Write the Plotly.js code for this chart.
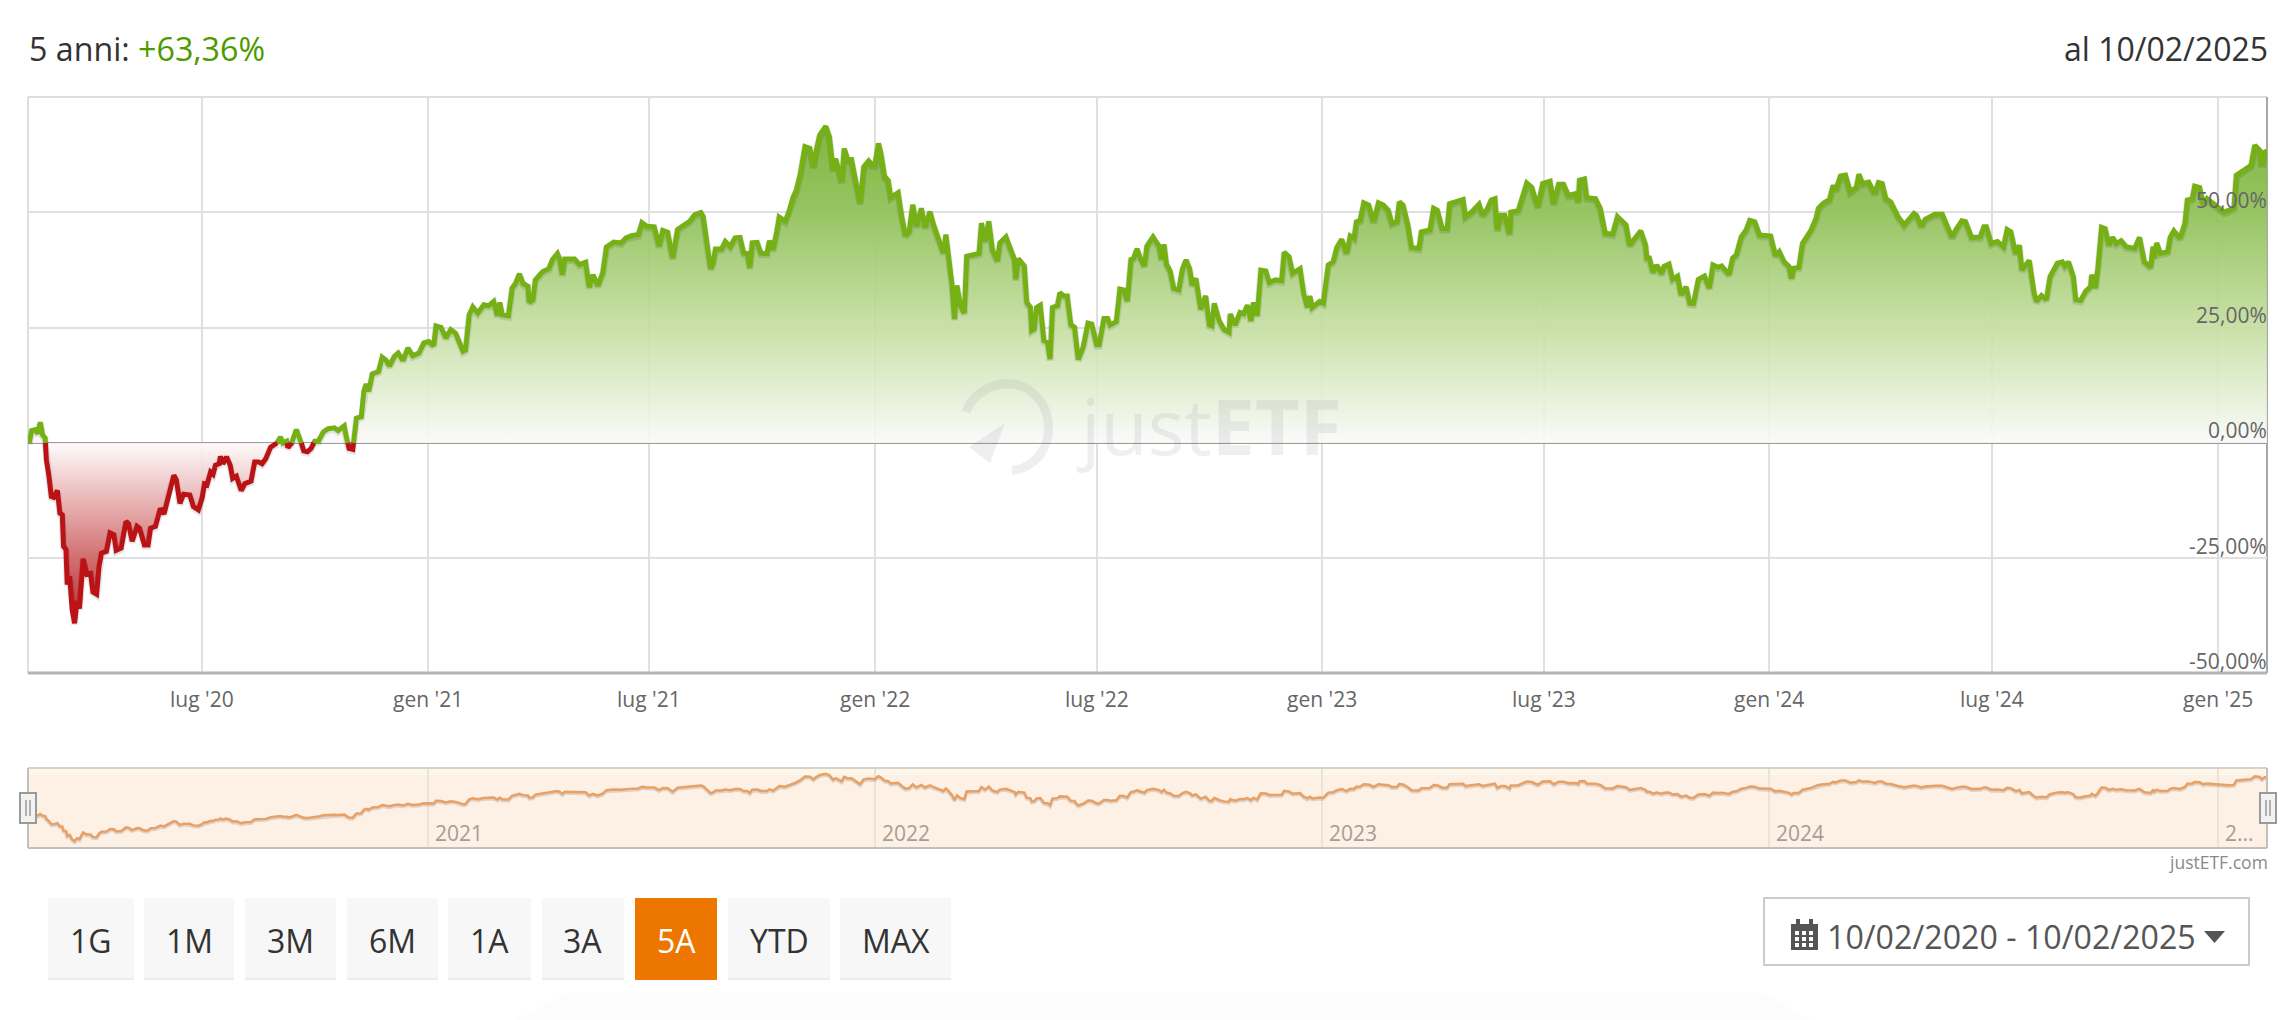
<!DOCTYPE html>
<html lang="it">
<head>
<meta charset="utf-8">
<title>justETF 5 anni</title>
<script src="https://cdn.plot.ly/plotly-3.0.1.min.js"></script>
<style>html,body{margin:0;padding:0;background:#fff;overflow:hidden}#chart{width:2294px;height:1020px}</style>
</head>
<body>
<div id="chart"></div>
<script>
// Data: days since 10/02/2020 and cumulative return in %
const startDate = Date.UTC(2020, 1, 10);
const dayOffsets = [0,1,3,6,8,10,12,14,15,17,19,21,24,26,28,29,31,32,34,36,38,40,42,45,48,51,53,56,58,60,64,67,70,72,76,80,82,85,89,91,95,98,100,104,108,111,115,119,121,124,127,132,135,139,142,144,146,149,151,153,156,157,159,162,165,167,170,174,177,182,185,188,191,194,198,203,206,208,211,212,215,219,223,225,228,231,234,237,241,245,250,253,
258,260,262,265,268,272,274,276,278,281,286,289,292,295,299,302,306,310,314,319,323,327,331,333,337,341,345,349,352,355,357,360,363,367,372,376,380,383,385,387,392,395,398,401,404,408,409,412,414,420,425,428,432,434,436,438,446,450,455,458,461,465,469,472,478,484,488,493,498,501,505,511,
515,518,522,526,530,535,540,544,549,551,554,557,559,561,566,569,573,577,581,584,587,589,591,595,598,603,605,608,611,613,618,621,624,627,630,634,638,641,643,646,651,654,657,659,664,666,669,672,675,679,682,686,689,691,694,696,699,702,704,710,713,716,719,722,725,729,732,736,739,744,747,749,751,754,756,758,761,764,766,771,776,778,781,784,787,
791,793,798,802,805,806,808,813,815,818,819,821,823,826,829,832,834,836,840,842,845,848,851,854,855,857,861,865,868,872,874,878,881,883,888,891,894,897,900,902,905,908,911,913,918,923,925,927,929,932,935,939,942,945,948,950,953,957,961,964,966,968,972,976,980,981,985,989,992,995,998,1000,1003,1006,1010,1013,1018,1023,1025,1029,1032,1038,1041,1044,1046,1048,
1054,1057,1061,1065,1068,1072,1076,1079,1082,1084,1087,1090,1094,1098,1102,1106,1110,1113,1117,1119,1122,1126,1129,1135,1137,1144,1147,1150,1154,1158,1160,1166,1171,1173,1178,1184,1187,1191,1194,1197,1199,1202,1205,1209,1210,1216,1219,1223,1227,1232,1236,1242,1245,1249,1253,1257,1263,1265,1266,1270,1272,1279,1283,1287,1293,1297,1304,1307,1310,
1316,1320,1321,1323,1326,1329,1333,1335,1339,1342,1346,1349,1353,1356,1359,1363,1368,1372,1375,1379,1382,1388,1391,1394,1398,1402,1405,1409,1413,1422,1426,1429,1433,1437,1439,1441,1445,1448,1455,1459,1461,1465,1470,1473,1475,1479,1483,1487,1492,1494,1497,1502,1507,1510,1513,1516,1520,1526,1531,1539,1541,1545,1548,1556,1562,
1567,1570,1573,1578,1581,1586,1593,1596,1598,1602,1607,1612,1615,1618,1622,1625,1627,1633,1637,1639,1643,1647,1650,1656,1660,1662,1665,1669,1671,1675,1679,1683,1684,1687,1689,1692,1695,1698,1701,1704,1708,1712,1719,1723,1727,1732,1734,1735,1737,1740,1746,1748,1751,1756,1760,1762,1766,1768,1772,1775,1778,1785,1792,1796,1800,1802,1814,1817,1821,1823,1825,1827];
const returnsPct = [0,0,2.7,2.9,2.0,4.5,1.7,1.1,-3.7,-7.0,-11.6,-11.8,-10.3,-15.2,-15.6,-22.4,-23.1,-30.7,-28.9,-36.1,-39.1,-34.3,-35.9,-25.1,-28.5,-28.3,-32.3,-32.8,-26.7,-23.9,-23.5,-19.5,-19.9,-23.3,-22.8,-17.0,-17.5,-21.3,-18.1,-18.5,-22.1,-22.1,-18.5,-18.1,-14.2,-15.4,-10.6,-7.0,-8.0,-13.1,-11.1,-11.3,-13.8,-14.5,-12.0,-8.9,-9.1,-6.3,-6.8,-4.8,-4.5,-2.9,-4.5,-3.0,-4.8,-7.7,-7.2,-10.3,-8.8,-8.3,-4.1,-4.1,-4.5,-3.4,-0.9,-0.1,1.3,0,0.4,-1.0,-0.1,2.9,0,-1.7,-1.9,-1.2,0.4,0.4,2.4,3.1,3.3,2.7,
3.7,1.0,-1.2,-1.4,5.4,5.7,11.2,12.8,11.2,15.0,15.5,18.6,18.0,16.7,18.8,19.5,17.9,20.6,18.9,19.5,21.7,22.0,21.1,25.4,25.1,22.8,24.6,23.8,22.0,19.9,20.2,27.8,29.5,28.2,30.0,29.8,30.7,27.6,30.5,27.8,27.6,33.6,34.7,36.7,34.6,34.0,30.5,31.1,35.4,37.2,37.8,39.8,41.1,39.8,36.5,39.9,39.9,38.7,39.2,33.8,36.5,34.1,36.9,42.5,43.6,43.4,44.5,45.0,45.2,47.8,47.0,46.9,
42.7,46.1,45.7,40.1,46.3,47.3,48.1,49.5,50.0,49.1,43.4,37.8,39.0,42.1,42.1,43.7,42.6,44.5,44.6,41.2,41.1,38.0,43.4,43.5,41.2,41.1,43.9,41.9,45.9,49.0,48.1,50.2,53.1,54.9,58.1,64.3,63.9,59.9,63.2,66.8,68.7,66.4,59.2,61.7,56.7,63.9,61.4,61.5,57.4,52.0,59.9,61.2,60.3,60.3,65.0,62.8,57.8,56.9,53.3,54.3,49.1,45.0,45.9,51.7,47.0,50.9,46.8,50.2,47.3,43.7,41.2,45.2,41.6,34.4,26.9,34.2,29.7,28.2,40.5,40.9,41.1,47.7,43.7,48.1,41.9,
39.5,43.4,44.7,41.6,39.8,35.5,40.0,38.4,30.5,29.4,24.4,24.7,29.4,29.9,22.2,21.8,18.2,29.4,29.8,32.6,31.9,31.9,25.6,25.1,21.8,18.1,20.8,26.0,25.8,21.3,21.3,27.0,27.0,25.6,26.3,33.4,33.2,30.8,39.8,40.0,42.1,39.8,38.4,42.7,44.7,42.7,39.8,43.1,38.8,37.3,33.5,33.2,37.7,39.7,37.7,34.2,35.7,29.0,31.9,25.6,25.4,30.3,26.5,24.6,24.0,28.0,25.6,28.3,28.0,29.9,26.5,30.5,27.6,37.5,37.3,34.8,35.4,35.2,41.4,40.4,36.8,37.8,32.3,29.4,31.9,29.4,
30.7,30.3,38.6,39.3,42.4,44.2,41.1,44.9,44.4,48.0,48.3,52.1,51.6,48.0,52.1,51.6,50.5,47.6,48.0,52.3,51.6,47.3,42.4,42.2,45.8,46.2,50.9,50.5,46.5,46.5,51.9,52.5,52.8,49.1,50.1,51.8,49.4,50.9,52.7,53.0,46.2,49.4,49.4,45.3,50.1,50.4,53.0,56.4,55.5,51.2,56.3,56.8,51.9,56.1,56.1,53.7,54.1,52.3,57.0,57.3,53.2,53.0,50.9,45.5,45.3,49.1,47.3,42.9,44.0,
46.0,42.9,40.1,40.1,37.0,38.6,36.7,38.3,38.8,35.5,36.2,32.1,33.9,30.3,30.2,35.5,36.2,33.6,38.6,38.1,38.4,36.5,40.1,40.8,44.7,46.2,48.3,48.0,45.1,44.9,40.6,41.5,39.3,38.3,35.7,37.9,38.1,43.3,46.2,48.7,50.9,52.0,52.8,55.9,54.8,57.9,58.1,54.5,55.5,58.3,56.3,56.6,54.1,56.5,56.3,53.0,52.3,49.1,47.3,49.8,49.4,47.0,48.5,49.6,49.6,
46.5,44.6,46.2,48.2,48.0,44.6,44.7,46.9,46.9,43.3,43.7,42.6,46.3,45.8,41.0,42.9,37.5,39.6,32.5,30.7,32.0,31.1,36.1,39.0,39.3,38.4,39.3,36.1,31.1,30.9,32.9,33.9,36.5,33.6,37.9,46.8,46.5,42.9,44.6,43.3,43.9,42.6,42.2,44.6,39.3,38.1,42.6,40.1,43.4,41.1,41.5,44.6,46.0,44.4,47.6,52.7,53.0,55.7,55.4,51.9,53.0,51.6,50.1,50.5,51.0,58.1,60.2,64.6,63.5,60.2,63.1,63.36];

const yTickValues = [-50,-25,0,25,50];
const yTickLabels = ['-50,00%','-25,00%','0,00%','25,00%','50,00%'];
const xTickDates = ['2020-07-01','2021-01-01','2021-07-01','2022-01-01','2022-07-01','2023-01-01','2023-07-01','2024-01-01','2024-07-01','2025-01-01'];
const xTickLabels = ["lug '20","gen '21","lug '21","gen '22","lug '22","gen '23","lug '23","gen '24","lug '24","gen '25"];
const navTickDates = ['2021-01-01','2022-01-01','2023-01-01','2024-01-01','2025-01-01'];
const navTickLabels = ['2021','2022','2023','2024','2...'];
const rangeButtons = ['1G','1M','3M','6M','1A','3A','5A','YTD','MAX'];
const activeButton = '5A';
const periodLabel = '5 anni: ';
const performanceLabel = '+63,36%';
const asOfLabel = 'al 10/02/2025';
const dateRangeLabel = '10/02/2020 - 10/02/2025';

// page geometry
const W = 2294, H = 1020;
const px = x => x / W, py = y => 1 - y / H;
const FONT = '"Open Sans", sans-serif';
const GREEN = '#75b015', RED = '#bb1216';

const toDate = d => new Date(startDate + d * 864e5).toISOString().slice(0, 19);

// split at the zero crossings
const sd = [], sv = [];
dayOffsets.forEach((d, i) => {
  if (i > 0) {
    const a = returnsPct[i - 1], b = returnsPct[i];
    if (a * b < 0) {
      sd.push(dayOffsets[i - 1] + (d - dayOffsets[i - 1]) * a / (a - b));
      sv.push(0);
    }
  }
  sd.push(d); sv.push(returnsPct[i]);
});
const X = sd.map(toDate);
const fillPos = sv.map(v => Math.max(v, 0));
const fillNeg = sv.map(v => Math.min(v, 0));
const linePos = sv.map((v, i) => (v > 0 || (v === 0 && ((sv[i - 1] > 0) || (sv[i + 1] > 0)))) ? v : null);
const lineNeg = sv.map((v, i) => (v < 0 || (v === 0 && ((sv[i - 1] < 0) || (sv[i + 1] < 0)))) ? v : null);
const shadowOf = a => a.map(v => v === null ? null : v - 0.3);

const traces = [
  {x: X, y: fillPos, xaxis: 'x', yaxis: 'y', mode: 'lines', line: {width: 0}, fill: 'tozeroy', hoverinfo: 'skip',
   fillgradient: {type: 'vertical', start: 0, stop: 69,
     colorscale: [[0, 'rgba(250,250,250,0.9)'], [0.36, 'rgba(196,222,160,0.9)'], [0.72, 'rgba(146,194,92,0.95)'], [1, 'rgba(122,178,52,0.95)']]}},
  {x: X, y: fillNeg, xaxis: 'x', yaxis: 'y', mode: 'lines', line: {width: 0}, fill: 'tozeroy', hoverinfo: 'skip',
   fillgradient: {type: 'vertical', start: 0, stop: -40,
     colorscale: [[0, 'rgba(255,250,250,0.9)'], [0.6, 'rgba(208,104,104,0.92)'], [1, 'rgba(180,28,30,0.95)']]}},
  {x: X, y: shadowOf(linePos), xaxis: 'x', yaxis: 'y', mode: 'lines', line: {color: 'rgba(0,0,0,0.10)', width: 7}, hoverinfo: 'skip'},
  {x: X, y: shadowOf(lineNeg), xaxis: 'x', yaxis: 'y', mode: 'lines', line: {color: 'rgba(0,0,0,0.10)', width: 7}, hoverinfo: 'skip'},
  {x: X, y: linePos, xaxis: 'x', yaxis: 'y', mode: 'lines', line: {color: GREEN, width: 5}, name: 'positivo'},
  {x: X, y: lineNeg, xaxis: 'x', yaxis: 'y', mode: 'lines', line: {color: RED, width: 5}, name: 'negativo'},
  {x: X, y: sv.map(v => v - 2), xaxis: 'x2', yaxis: 'y2', mode: 'lines', line: {color: 'rgba(0,0,0,0.12)', width: 3.5}, hoverinfo: 'skip'},
  {x: X, y: sv, xaxis: 'x2', yaxis: 'y2', mode: 'lines', line: {color: '#e8a064', width: 2.5}, name: 'navigator'}
];

const xStart = toDate(0), xEnd = toDate(1827);
const shapes = [], annotations = [];
const rect = (x0, y0, x1, y1, fill, line, layer) => shapes.push({type: 'rect', xref: 'paper', yref: 'paper',
  x0: px(x0), x1: px(x1), y0: py(y0), y1: py(y1), fillcolor: fill, line: line || {width: 0}, layer: layer || 'below'});
const seg = (x0, y0, x1, y1, color, width, layer) => shapes.push({type: 'line', xref: 'paper', yref: 'paper',
  x0: px(x0), x1: px(x1), y0: py(y0), y1: py(y1), line: {color, width}, layer: layer || 'below'});
const poly = (pts, fill, layer) => shapes.push({type: 'path', xref: 'paper', yref: 'paper',
  path: 'M' + pts.map(p => px(p[0]) + ',' + py(p[1])).join('L') + 'Z', fillcolor: fill, line: {width: 0}, layer: layer || 'above'});
const label = (text, x, y, size, color, xanchor, extra) => annotations.push(Object.assign({text, xref: 'paper', yref: 'paper',
  x: px(x), y: py(y), xanchor: xanchor || 'center', yanchor: 'middle', showarrow: false,
  font: {family: FONT, size, color}, borderpad: 0, borderwidth: 0}, extra || {}));

// axis labels
xTickDates.forEach((d, i) => label(xTickLabels[i], d, 699, 21, '#666666', 'center', {xref: 'x', x: d}));
yTickValues.forEach((v, i) => label(yTickLabels[i], 2267, 0, 21, '#666666', 'right', {yref: 'y', y: v, yshift: 12.5}));
navTickDates.forEach((d, i) => label(navTickLabels[i], d, 833, 21, '#a89c94', 'left', {xref: 'x2', x: d, xshift: 7}));

// plot frame
seg(28, 97, 2267, 97, '#dedede', 2);
seg(28, 97, 28, 673, '#dedede', 2);
seg(2267, 97, 2267, 673, '#a8a8a8', 2);
seg(28, 673, 2267, 673, '#b4b4b4', 3, 'above');

// navigator
rect(28, 768, 2267, 848, '#fdf0e5');
rect(28, 768, 2267, 775, '#fdf6ea');
seg(28, 768, 2267, 768, '#d9d2c4', 2, 'above');
seg(28, 848, 2267, 848, '#c2c0be', 2, 'above');
seg(28, 768, 28, 848, '#c2c0be', 2, 'above');
seg(2267, 768, 2267, 848, '#c2c0be', 2, 'above');
[[20, 36], [2260, 2276]].forEach(h => {
  rect(h[0], 793, h[1], 823, '#f2f2f2', {color: '#9a9a9a', width: 2}, 'above');
  seg((h[0] + h[1]) / 2 - 2, 800, (h[0] + h[1]) / 2 - 2, 816, '#9a9a9a', 1.5, 'above');
  seg((h[0] + h[1]) / 2 + 2, 800, (h[0] + h[1]) / 2 + 2, 816, '#9a9a9a', 1.5, 'above');
});

// header
label(periodLabel + '<span style="color:#4c9a00">' + performanceLabel + '</span>', 29, 48, 32.2, '#333333', 'left');
label(asOfLabel, 2268, 48, 32, '#333333', 'right');
label('justETF.com', 2268, 862, 17.5, '#8a8a8a', 'right');

// range buttons
const buttonEdges = [[48,134],[144,234],[245,336],[347,438],[448,531],[542,624],[635,717],[728,830],[840,951]];
rangeButtons.forEach((t, i) => {
  const on = t === activeButton, e = buttonEdges[i];
  rect(e[0], 898, e[1], 980, on ? '#ec7600' : '#f7f7f7');
  if (!on) seg(e[0], 979, e[1], 979, '#ececec', 2);
  label(t, (e[0] + e[1]) / 2, 940, 32, on ? '#ffffff' : '#333333');
});

// date picker
rect(1764, 898, 2249, 965, '#ffffff', {color: '#cccccc', width: 2});
rect(1791, 924, 1818, 950, '#555555', null, 'above');
rect(1796, 919, 1800, 926, '#555555', null, 'above');
rect(1809, 919, 1813, 926, '#555555', null, 'above');
[931, 937, 943].forEach(y => [1795, 1802, 1809].forEach(x => rect(x, y, x + 4, y + 4, '#ffffff', null, 'above')));
label(dateRangeLabel, 1827, 936, 32.2, '#555555', 'left');
poly([[2204, 931], [2225, 931], [2214.5, 943]], '#555555');

// faint block below the chart
poly([[516, 1020], [570, 992], [1760, 992], [1810, 1020]], '#fcfcfc', 'below');

// watermark
label('just<b>ETF</b>', 1076, 425, 77, 'rgba(130,130,130,0.13)', 'left');
shapes.push({type: 'path', xref: 'paper', yref: 'paper',
  path: `M${px(966)},${py(412)} C${px(975)},${py(385)} ${px(1020)},${py(368)} ${px(1043)},${py(405)} C${px(1060)},${py(440)} ${px(1035)},${py(470)} ${px(1012)},${py(470)}`,
  line: {color: 'rgba(130,130,130,0.13)', width: 9}, fillcolor: 'rgba(0,0,0,0)', layer: 'above'});
poly([[969, 447], [1005, 423], [990, 463]], 'rgba(130,130,130,0.13)');

const layout = {
  width: W, height: H, autosize: false,
  margin: {l: 0, r: 0, t: 0, b: 0, pad: 0},
  paper_bgcolor: '#ffffff', plot_bgcolor: 'rgba(0,0,0,0)',
  showlegend: false,
  font: {family: FONT, color: '#666666'},
  xaxis: {domain: [px(28), px(2267)], type: 'date', range: [xStart, xEnd], anchor: 'y', fixedrange: true,
    tickmode: 'array', tickvals: xTickDates, ticks: '', showticklabels: false,
    showgrid: true, gridcolor: '#e0e0e0', gridwidth: 2, zeroline: false, showline: false},
  yaxis: {domain: [py(673.5), py(97)], range: [-50, 75.05], anchor: 'x', side: 'right', fixedrange: true,
    tickmode: 'array', tickvals: yTickValues, ticks: '', showticklabels: false,
    showgrid: true, gridcolor: '#e0e0e0', gridwidth: 2,
    zeroline: true, zerolinecolor: '#9c9c9c', zerolinewidth: 2, showline: false},
  xaxis2: {domain: [px(28), px(2267)], type: 'date', range: [xStart, xEnd], anchor: 'y2', fixedrange: true,
    tickmode: 'array', tickvals: navTickDates, ticks: '', showticklabels: false,
    showgrid: true, gridcolor: '#ebe2d8', gridwidth: 2, zeroline: false, showline: false},
  yaxis2: {domain: [py(848), py(768)], range: [-50, 78], anchor: 'x2', fixedrange: true, showticklabels: false, showgrid: false, zeroline: false, showline: false, ticks: ''},
  shapes, annotations
};
Plotly.newPlot('chart', traces, layout, {displayModeBar: false, staticPlot: true, responsive: false});
</script>
</body>
</html>
